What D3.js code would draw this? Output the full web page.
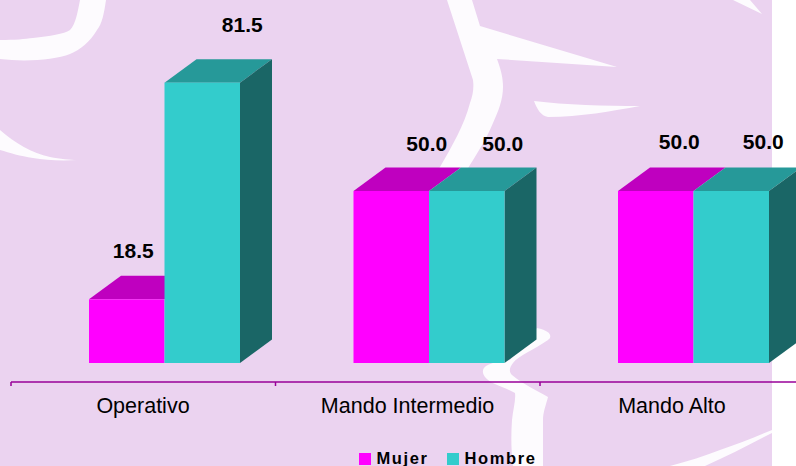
<!DOCTYPE html>
<html lang="en">
<head>
<meta charset="UTF-8">
<title>Mujer / Hombre</title>
<script src="https://cdn.jsdelivr.net/npm/d3@7/dist/d3.min.js"></script>
<style>
html, body { margin: 0; padding: 0; background: #fff; overflow: hidden; }
text { font-family: "Liberation Sans", Arial, sans-serif; fill: #000; }
</style>
</head>
<body>
<div id="chart"></div>
<script>
var categories = ["Operativo", "Mando Intermedio", "Mando Alto"];
var seriesNames = ["Mujer", "Hombre"];
var mujer = [18.5, 50.0, 50.0];
var hombre = [81.5, 50.0, 50.0];

var width = 796, height = 466;
var faces = {
    Mujer: { front: "#ff00ff", top: "#bf00bf", side: "#800080" },
    Hombre: { front: "#33cccc", top: "#269999", side: "#1a6666" }
};

var svg = d3.select("#chart").append("svg")
    .attr("width", width)
    .attr("height", height)
    .style("display", "block");

// background panel with the white brush strokes
svg.append("rect")
    .attr("width", 772).attr("height", height)
    .attr("fill", "#ebd3f0");

var strokes = [
    "M0,40 C15,40 25,39 33,38 C50,36 64,34 70,30 C76,24 78,10 80,0 L106,0 C104,14 102,24 97,30 C90,42 80,50 70,54 C55,60 25,62 0,59 Z",
    "M0,130 C15,143 32,153 50,157 C60,159 70,160 77,160 C60,161 45,160 33,158 C20,156 10,153 0,150 Z",
    "M447,0 L472,0 L480,26 L617,67 L497,59 C501,70 503,78 503,87 C503,100 498,112 493,123 C486,140 476,155 467,170 L438,170 L440,167 C452,146 464,126 470,103 C473,95 474,88 473,80 Z",
    "M534,101 C565,105 605,106 640,106 C612,111 580,117 548,117 C541,116 537,109 534,101 Z",
    "M733,0 L750,0 L762,14 Z",
    "M537,328 C542,329 550,332 550,335 C551,338 549,339 548,340 C535,349 518,356 513,363 C509,368 509,372 512,375 C522,384 540,392 548,397 C546,405 543,412 543,420 L543,466 L513,466 C511,450 511,435 512,420 C513,410 516,400 515,393 C505,387 490,384 485,377 C482,373 482,369 486,366 C492,362 500,362 510,360 Z",
    "M772,430 C755,437 738,444 720,450 C705,456 688,461 670,466 L705,466 C728,456 750,444 772,433 Z"
];
svg.append("g").selectAll("path")
    .data(strokes)
    .enter().append("path")
    .attr("d", function(d) { return d; })
    .attr("fill", "#fdfbfe");

var x = d3.scaleBand()
    .domain(categories)
    .range([11, 804.5]);

var y = d3.scaleLinear()
    .domain([0, 50])
    .range([363, 191]);

var barWidth = 75.5;
var depthX = 32, depthY = 23.5;

var rows = [];
categories.forEach(function(c, i) {
    rows.push({ cat: c, i: i, name: "Mujer", value: mujer[i], slot: 0 });
    rows.push({ cat: c, i: i, name: "Hombre", value: hombre[i], slot: 1 });
});

function barLeft(d) {
    return x(d.cat) + 78 + d.slot * barWidth;
}

var bars = svg.append("g").selectAll("g")
    .data(rows)
    .enter().append("g");

// top and side first, the front face goes over them
bars.append("path")
    .attr("fill", function(d) { return faces[d.name].top; })
    .attr("d", function(d) {
        var l = barLeft(d), t = y(d.value);
        return "M" + l + "," + t + "l" + depthX + "," + (-depthY) + "h" + barWidth + "l" + (-depthX) + "," + depthY + "Z";
    });

bars.filter(function(d) { return d.slot == 1; }).append("path")
    .attr("fill", function(d) { return faces[d.name].side; })
    .attr("d", function(d) {
        var r = barLeft(d) + barWidth, t = y(d.value);
        return "M" + r + "," + t + "l" + depthX + "," + (-depthY) + "V" + (y(0) - depthY) + "l" + (-depthX) + "," + depthY + "Z";
    });

// fronts drawn last so the tall bar hides the short bar's top
svg.append("g").selectAll("rect")
    .data(rows)
    .enter().append("rect")
    .attr("x", barLeft)
    .attr("y", function(d) { return y(d.value); })
    .attr("width", barWidth)
    .attr("height", function(d) { return y(0) - y(d.value); })
    .attr("fill", function(d) { return faces[d.name].front; });

// value labels sit off the bars by a different amount per bar
var labelShift = [6.5, 40, 35.5, 36, 23.5, 32];
var labelRise = [41, 50.5, 40, 40, 42, 42];
svg.append("g").selectAll("text")
    .data(rows)
    .enter().append("text")
    .attr("x", function(d, i) { return barLeft(d) + barWidth / 2 + labelShift[i]; })
    .attr("y", function(d, i) { return y(d.value) - labelRise[i]; })
    .attr("text-anchor", "middle")
    .style("font-size", "21px")
    .style("font-weight", "bold")
    .text(function(d) { return d.value.toFixed(1); });

// axis
svg.append("line")
    .attr("x1", x.range()[0]).attr("x2", width)
    .attr("y1", 382).attr("y2", 382)
    .attr("stroke", "#990099")
    .attr("stroke-width", 1.5);

svg.append("g").selectAll("line")
    .data(categories)
    .enter().append("line")
    .attr("x1", function(d) { return x(d); })
    .attr("x2", function(d) { return x(d); })
    .attr("y1", 382).attr("y2", 386)
    .attr("stroke", "#990099")
    .attr("stroke-width", 1.5);

svg.append("g").selectAll("text")
    .data(categories)
    .enter().append("text")
    .attr("x", function(d) { return x(d) + 132; })
    .attr("y", 413)
    .attr("text-anchor", "middle")
    .style("font-size", "21.5px")
    .text(function(d) { return d; });

// legend, sits on the bottom edge like the original
var legendX = [359, 447];
var legend = svg.append("g").selectAll("g")
    .data(seriesNames)
    .enter().append("g")
    .attr("transform", function(d, i) { return "translate(" + legendX[i] + ",453)"; });

legend.append("rect")
    .attr("width", 12).attr("height", 12)
    .attr("fill", function(d) { return faces[d].front; });

legend.append("text")
    .attr("x", 17.5)
    .attr("y", 11)
    .style("font-size", "16.5px")
    .style("font-weight", "bold")
    .style("letter-spacing", "1.6px")
    .text(function(d) { return d; });
</script>
</body>
</html>
